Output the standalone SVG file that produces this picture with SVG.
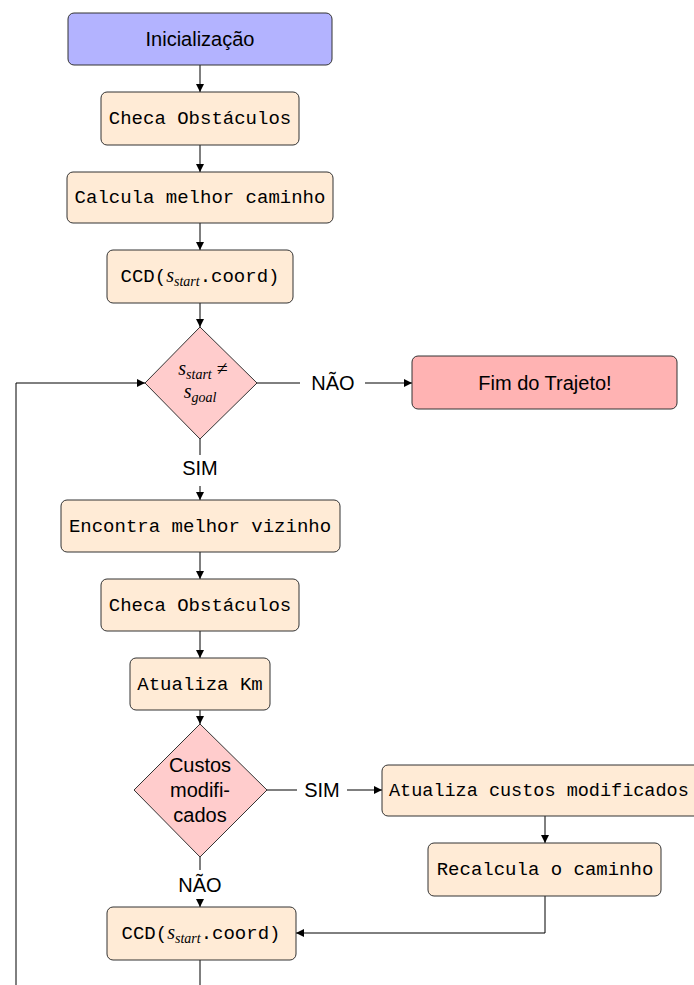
<svg xmlns="http://www.w3.org/2000/svg" width="694" height="985" viewBox="0 0 694 985">
  <defs>
    <marker id="arrow" viewBox="0 0 10 10" refX="10" refY="5" markerWidth="8" markerHeight="8" markerUnits="userSpaceOnUse" orient="auto">
      <path d="M0,0 L10,5 L0,10 z" fill="#000"/>
    </marker>
  </defs>
  <style>
    .box { fill: #ffebd6; stroke: #333; stroke-width: 1; }
    .start { fill: #b3b3ff; stroke: #333; stroke-width: 1; }
    .stop { fill: #ffb3b3; stroke: #333; stroke-width: 1; }
    .dec { fill: #ffcccc; stroke: #333; stroke-width: 1; }
    .mono { font-family: "Liberation Mono", "DejaVu Sans Mono", monospace; font-size: 19px; fill: #000; text-anchor: middle; }
    .left { text-anchor: start; font-size: 18.5px; }
    .sans { font-family: "Liberation Sans", "DejaVu Sans", sans-serif; font-size: 20px; fill: #000; text-anchor: middle; }
    .math { font-family: "Liberation Serif", "DejaVu Serif", serif; font-style: italic; }
    .edge { fill: none; stroke: #000; stroke-width: 1; }
    .arr { marker-end: url(#arrow); }
  </style>

  <!-- connectors -->
  <g id="edges">
    <path class="edge arr" d="M200,65 V92"/>
    <path class="edge arr" d="M200,145 V172"/>
    <path class="edge arr" d="M200,223 V250"/>
    <path class="edge arr" d="M200,303 V327"/>
    <path class="edge" d="M257,383 H300"/>
    <path class="edge arr" d="M365,383 H412"/>
    <path class="edge" d="M200,439 V455"/>
    <path class="edge arr" d="M200,486 V500"/>
    <path class="edge arr" d="M200,552 V579"/>
    <path class="edge arr" d="M200,631 V658"/>
    <path class="edge arr" d="M200,710 V724"/>
    <path class="edge" d="M267,790 H297"/>
    <path class="edge arr" d="M347,790 H382"/>
    <path class="edge arr" d="M545,816 V843"/>
    <path class="edge arr" d="M545,896 V933 H296"/>
    <path class="edge" d="M200,857 V870"/>
    <path class="edge arr" d="M200,900 V907"/>
    <path class="edge" d="M200,960 V985"/>
    <path class="edge arr" d="M16,985 V383 H145"/>
    <text class="sans" x="333" y="390">NÃO</text>
    <text class="sans" x="200" y="475">SIM</text>
    <text class="sans" x="322" y="797">SIM</text>
    <text class="sans" x="200" y="892">NÃO</text>
  </g>

  <g id="inicializacao">
    <rect class="start" x="68" y="13" width="264" height="52" rx="6"/>
    <text class="sans" x="200" y="46">Inicialização</text>
  </g>

  <g id="checa1">
    <rect class="box" x="101" y="92" width="198" height="53" rx="6"/>
    <text class="mono" x="200" y="124">Checa Obstáculos</text>
  </g>

  <g id="calcula">
    <rect class="box" x="67" y="172" width="266" height="51" rx="6"/>
    <text class="mono" x="200" y="203">Calcula melhor caminho</text>
  </g>

  <g id="ccd1">
    <rect class="box" x="107" y="250" width="186" height="53" rx="6"/>
    <text class="mono" x="200" y="282">CCD(<tspan class="math" font-size="20">s</tspan><tspan class="math" font-size="14" dy="4">start</tspan><tspan dy="-4">.coord)</tspan></text>
  </g>

  <g id="teste-goal">
    <polygon class="dec" points="200,327 257,383 200,439 145,383"/>
    <text class="math" x="203" y="375" font-size="20" text-anchor="middle">s<tspan font-size="14" dy="4">start</tspan><tspan font-size="20" font-style="normal" dy="-4"> ≠</tspan></text>
    <text class="math" x="200" y="398" font-size="20" text-anchor="middle">s<tspan font-size="14" dy="4">goal</tspan></text>
  </g>

  <g id="fim">
    <rect class="stop" x="412" y="356" width="265" height="53" rx="6"/>
    <text class="sans" x="545" y="390">Fim do Trajeto!</text>
  </g>

  <g id="encontra">
    <rect class="box" x="61" y="500" width="279" height="52" rx="6"/>
    <text class="mono" x="200" y="532">Encontra melhor vizinho</text>
  </g>

  <g id="checa2">
    <rect class="box" x="101" y="579" width="198" height="52" rx="6"/>
    <text class="mono" x="200" y="611">Checa Obstáculos</text>
  </g>

  <g id="atualiza-km">
    <rect class="box" x="130" y="658" width="140" height="52" rx="6"/>
    <text class="mono" x="200" y="690">Atualiza Km</text>
  </g>

  <g id="custos">
    <polygon class="dec" points="200,724 267,790 200,857 134,790"/>
    <text class="sans" x="200" y="772">Custos</text>
    <text class="sans" x="200" y="797">modifi-</text>
    <text class="sans" x="200" y="822">cados</text>
  </g>

  <g id="atualiza-custos">
    <rect class="box" x="382" y="765" width="330" height="51" rx="6"/>
    <text class="mono left" x="389" y="796">Atualiza custos modificados</text>
  </g>

  <g id="recalcula">
    <rect class="box" x="428" y="843" width="233" height="53" rx="6"/>
    <text class="mono" x="545" y="875">Recalcula o caminho</text>
  </g>

  <g id="ccd2">
    <rect class="box" x="107" y="907" width="189" height="53" rx="6"/>
    <text class="mono" x="201" y="939">CCD(<tspan class="math" font-size="20">s</tspan><tspan class="math" font-size="14" dy="4">start</tspan><tspan dy="-4">.coord)</tspan></text>
  </g>
</svg>
